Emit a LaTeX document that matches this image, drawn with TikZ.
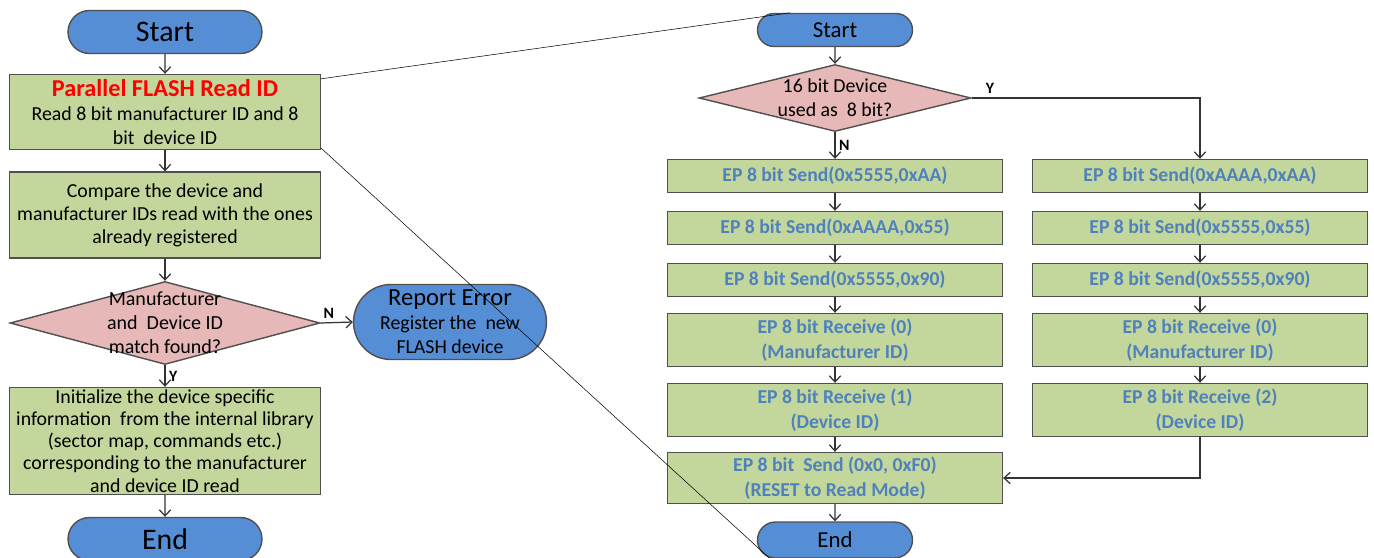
\documentclass[tikz,border=0pt]{standalone}
\usepackage{fontspec}
\setmainfont{Carlito}
\usetikzlibrary{shapes.geometric,shapes.misc,arrows.meta}
\definecolor{termblue}{RGB}{85,142,213}
\definecolor{procgreen}{RGB}{195,214,155}
\definecolor{decpink}{RGB}{230,184,183}
\definecolor{edgegrey}{RGB}{80,80,80}
\definecolor{stepblue}{RGB}{79,129,189}

\begin{document}
\begin{tikzpicture}[x=0.02cm,y=-0.02cm,every text node part/.style={align=center}]
  \tikzstyle{terminal}=[rounded rectangle,draw=edgegrey,fill=termblue,
    line width=0.8pt,inner sep=0pt]
  \tikzstyle{process}=[rectangle,draw=edgegrey,fill=procgreen,
    line width=0.8pt,inner sep=1pt,minimum width=6.22cm]
  \tikzstyle{decision}=[diamond,draw=edgegrey,fill=decpink,
    line width=0.8pt,inner sep=0pt]
  \tikzstyle{epstep}=[process,minimum width=6.7cm,text=stepblue,
    font=\fontsize{11.2}{14}\selectfont\bfseries]
  \tikzstyle{flow}=[draw=black!80,line width=0.7pt,
    -{Straight Barb[length=3.5pt,width=6.5pt]}]
  \tikzstyle{zoomline}=[draw=black,line width=0.3pt]
  \tikzstyle{yn}=[font=\fontsize{9}{10}\selectfont\bfseries,inner sep=2pt]

  \useasboundingbox (0,0) rectangle (1374,558);

  % read id flow
  \node [terminal,minimum width=3.88cm,minimum height=0.86cm,
    font=\fontsize{17}{20}\selectfont] (start) at (165,32) {Start};
  \node [process,minimum height=1.5cm,font=\fontsize{11.3}{13.6}\selectfont]
    (readid) at (165,112) {
    {\color{red}\bfseries\fontsize{13.8}{16}\selectfont Parallel FLASH Read ID}\\
    Read 8 bit manufacturer ID and 8\\
    bit\ \ device ID
  };
  \node [process,minimum height=1.72cm,font=\fontsize{11.3}{13}\selectfont]
    (compare) at (165,215) {
    Compare the device and\\
    manufacturer IDs read with the ones\\
    already registered
  };
  \node [decision,minimum width=6.2cm,minimum height=1.66cm,
    label={[align=center,font=\fontsize{11.4}{13.6}\selectfont]center:Manufacturer\\and\ \ Device ID\\match found?}]
    (match) at (165,323) {};
  \node [terminal,minimum width=3.86cm,minimum height=1.5cm,
    font=\fontsize{11.3}{13.6}\selectfont] (report) at (450,322) {
    {\fontsize{14}{15}\selectfont Report Error}\\
    Register the\ \ new\\
    FLASH device
  };
  \node [process,minimum height=2.14cm,font=\fontsize{11.3}{12.6}\selectfont]
    (init) at (165,441) {
    Initialize the device specific\\
    information\ \ from the internal library\\
    (sector map, commands etc.)\\
    corresponding to the manufacturer\\
    and device ID read
  };
  \node [terminal,minimum width=3.88cm,minimum height=0.86cm,
    font=\fontsize{17}{20}\selectfont] (end) at (165,539) {End};

  \draw [flow] (start) -- (readid);
  \draw [flow] (readid) -- (compare);
  \draw [flow] (compare) -- (match);
  \draw [flow] (match.east) -- node [yn,above,pos=0.25] {N} (report.west);
  \draw [flow] (match.south) -- node [yn,right,pos=0.5] {Y} (init.north);
  \draw [flow] (init) -- (end);

  % 8 bit access detail
  \node [terminal,minimum width=3.1cm,minimum height=0.66cm,
    font=\fontsize{13}{15}\selectfont] (rstart) at (835,30) {Start};
  \node [decision,minimum width=5.44cm,minimum height=1.34cm,
    label={[align=center,font=\fontsize{11.3}{13.6}\selectfont]center:16 bit Device\\used as\ \ 8 bit?}]
    (width) at (835,98) {};

  \node [epstep,minimum height=0.66cm] (na) at (835,176) {EP 8 bit Send(0x5555,0xAA)};
  \node [epstep,minimum height=0.66cm] (nb) at (835,228) {EP 8 bit Send(0xAAAA,0x55)};
  \node [epstep,minimum height=0.66cm] (nc) at (835,280) {EP 8 bit Send(0x5555,0x90)};
  \node [epstep,minimum height=1.06cm] (nd) at (835,340) {EP 8 bit Receive (0)\\(Manufacturer ID)};
  \node [epstep,minimum height=1.06cm] (ne) at (835,410) {EP 8 bit Receive (1)\\(Device ID)};
  \node [epstep,minimum height=1.02cm] (reset) at (835,478) {EP 8 bit\ \ Send (0x0, 0xF0)\\(RESET to Read Mode)};
  \node [terminal,minimum width=3.1cm,minimum height=0.72cm,
    font=\fontsize{13}{15}\selectfont] (rend) at (835,540) {End};

  \node [epstep,minimum height=0.66cm] (ya) at (1200,176) {EP 8 bit Send(0xAAAA,0xAA)};
  \node [epstep,minimum height=0.66cm] (yb) at (1200,228) {EP 8 bit Send(0x5555,0x55)};
  \node [epstep,minimum height=0.66cm] (yc) at (1200,280) {EP 8 bit Send(0x5555,0x90)};
  \node [epstep,minimum height=1.06cm] (yd) at (1200,340) {EP 8 bit Receive (0)\\(Manufacturer ID)};
  \node [epstep,minimum height=1.06cm] (ye) at (1200,410) {EP 8 bit Receive (2)\\(Device ID)};

  \draw [flow] (rstart) -- (width);
  \draw [flow] (width.south) -- node [yn,right,pos=0.5] {N} (na.north);
  \draw [flow] (width.east) -| node [yn,above,pos=0.04] {Y} (ya.north);
  \draw [flow] (na) -- (nb);
  \draw [flow] (nb) -- (nc);
  \draw [flow] (nc) -- (nd);
  \draw [flow] (nd) -- (ne);
  \draw [flow] (ne) -- (reset);
  \draw [flow] (reset) -- (rend);
  \draw [flow] (ya) -- (yb);
  \draw [flow] (yb) -- (yc);
  \draw [flow] (yc) -- (yd);
  \draw [flow] (yd) -- (ye);
  \draw [flow] (ye.south) |- (reset.east);

  % zoom lines
  \draw [zoomline] ([yshift=-0.1cm]readid.north east) -- ([xshift=-0.9cm]rstart.north);
  \draw [zoomline] ([yshift=0.04cm]readid.south east) -- ([xshift=-1.3cm]rend.south);
\end{tikzpicture}
\end{document}
